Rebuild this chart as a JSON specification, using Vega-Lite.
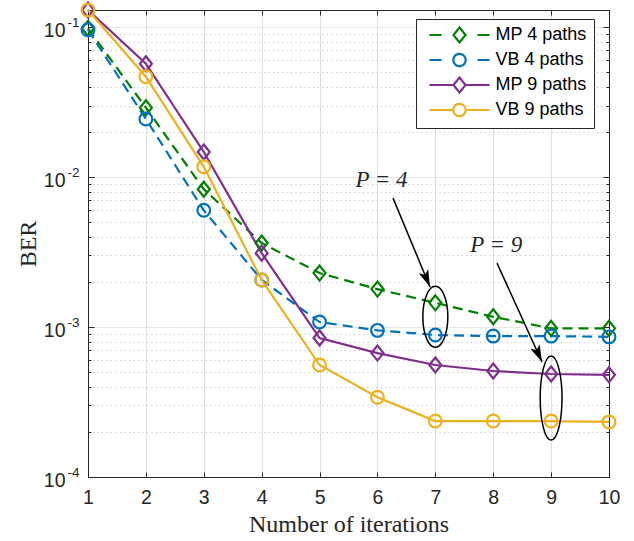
{
  "$schema": "https://vega.github.io/schema/vega-lite/v6.json",
  "width": 521,
  "height": 467,
  "autosize": {"type": "none"},
  "padding": {"left": 88, "top": 10, "right": 25, "bottom": 64},
  "background": "white",
  "config": {"view": {"stroke": "#262626", "strokeWidth": 1}, "font": "Liberation Sans"},
  "datasets": {
    "ber": [
      {"iter": 1, "ber": 0.098, "series": "MP 4 paths"},
      {"iter": 2, "ber": 0.029, "series": "MP 4 paths"},
      {"iter": 3, "ber": 0.0083, "series": "MP 4 paths"},
      {"iter": 4, "ber": 0.00363, "series": "MP 4 paths"},
      {"iter": 5, "ber": 0.00229, "series": "MP 4 paths"},
      {"iter": 6, "ber": 0.00179, "series": "MP 4 paths"},
      {"iter": 7, "ber": 0.00145, "series": "MP 4 paths"},
      {"iter": 8, "ber": 0.00117, "series": "MP 4 paths"},
      {"iter": 9, "ber": 0.00098, "series": "MP 4 paths"},
      {"iter": 10, "ber": 0.00098, "series": "MP 4 paths"},
      {"iter": 1, "ber": 0.096, "series": "VB 4 paths"},
      {"iter": 2, "ber": 0.0244, "series": "VB 4 paths"},
      {"iter": 3, "ber": 0.006, "series": "VB 4 paths"},
      {"iter": 4, "ber": 0.00206, "series": "VB 4 paths"},
      {"iter": 5, "ber": 0.00108, "series": "VB 4 paths"},
      {"iter": 6, "ber": 0.00095, "series": "VB 4 paths"},
      {"iter": 7, "ber": 0.000885, "series": "VB 4 paths"},
      {"iter": 8, "ber": 0.00087, "series": "VB 4 paths"},
      {"iter": 9, "ber": 0.00087, "series": "VB 4 paths"},
      {"iter": 10, "ber": 0.00086, "series": "VB 4 paths"},
      {"iter": 1, "ber": 0.13, "series": "MP 9 paths"},
      {"iter": 2, "ber": 0.057, "series": "MP 9 paths"},
      {"iter": 3, "ber": 0.0147, "series": "MP 9 paths"},
      {"iter": 4, "ber": 0.00311, "series": "MP 9 paths"},
      {"iter": 5, "ber": 0.000845, "series": "MP 9 paths"},
      {"iter": 6, "ber": 0.00067, "series": "MP 9 paths"},
      {"iter": 7, "ber": 0.000558, "series": "MP 9 paths"},
      {"iter": 8, "ber": 0.000509, "series": "MP 9 paths"},
      {"iter": 9, "ber": 0.000486, "series": "MP 9 paths"},
      {"iter": 10, "ber": 0.00048, "series": "MP 9 paths"},
      {"iter": 1, "ber": 0.13, "series": "VB 9 paths"},
      {"iter": 2, "ber": 0.0467, "series": "VB 9 paths"},
      {"iter": 3, "ber": 0.0117, "series": "VB 9 paths"},
      {"iter": 4, "ber": 0.00206, "series": "VB 9 paths"},
      {"iter": 5, "ber": 0.000558, "series": "VB 9 paths"},
      {"iter": 6, "ber": 0.00034, "series": "VB 9 paths"},
      {"iter": 7, "ber": 0.000236, "series": "VB 9 paths"},
      {"iter": 8, "ber": 0.000236, "series": "VB 9 paths"},
      {"iter": 9, "ber": 0.000236, "series": "VB 9 paths"},
      {"iter": 10, "ber": 0.000233, "series": "VB 9 paths"}
    ],
    "arrows": [
      {"x": 6.269, "y": 0.00724, "x2": 6.908, "y2": 0.00185},
      {"x": 8.065, "y": 0.00267, "x2": 8.843, "y2": 0.000584}
    ],
    "labels": [
      {"x": 6.07, "y": 0.00955, "t": "P = 4"},
      {"x": 8.053, "y": 0.00355, "t": "P = 9"}
    ]
  },
  "layer": [
    {
      "data": {"name": "ber"},
      "transform": [{"filter": {"field": "series", "oneOf": ["MP 4 paths", "VB 4 paths"]}}],
      "mark": {"type": "line", "strokeWidth": 2.2, "strokeDash": [10, 6]},
      "encoding": {
        "x": {
          "field": "iter", "type": "quantitative",
          "scale": {"domain": [1, 10], "nice": false, "zero": false},
          "axis": {
            "orient": "bottom", "values": [1, 2, 3, 4, 5, 6, 7, 8, 9, 10],
            "title": "Number of iterations", "titleFont": "Liberation Serif", "titleFontSize": 24,
            "titleFontWeight": "normal", "titleColor": "#262626", "titlePadding": 5,
            "labelFont": "Liberation Sans", "labelFontSize": 19.5, "labelColor": "#262626",
            "labelPadding": 16.5, "tickSize": -5, "tickColor": "#262626", "domainColor": "#262626",
            "grid": true, "gridColor": "#dfdfdf", "labelFlush": false
          }
        },
        "y": {
          "field": "ber", "type": "quantitative",
          "scale": {"type": "log", "domain": [0.0001, 0.13], "nice": false},
          "axis": {
            "orient": "left",
            "values": [0.0001, 0.0002, 0.0003, 0.0004, 0.0005, 0.0006, 0.0007, 0.0008, 0.0009, 0.001, 0.002, 0.003, 0.004, 0.005, 0.006, 0.007, 0.008, 0.009, 0.01, 0.02, 0.03, 0.04, 0.05, 0.06, 0.07, 0.08, 0.09, 0.1],
            "labelExpr": "datum.value === 0.1 || datum.value === 0.01 || datum.value === 0.001 || datum.value === 0.0001 ? '10' : ''",
            "labelOverlap": false,
            "title": "BER", "titleFont": "Liberation Serif", "titleFontSize": 24,
            "titleFontWeight": "normal", "titleColor": "#262626", "titlePadding": 3,
            "labelFont": "Liberation Sans", "labelFontSize": 19.5, "labelColor": "#262626",
            "labelPadding": 29, "labelOffset": 3,
            "tickSize": {"condition": {"test": "datum.value === 0.1 || datum.value === 0.01 || datum.value === 0.001 || datum.value === 0.0001", "value": -6}, "value": -3},
            "tickColor": "#262626", "domainColor": "#262626",
            "grid": true,
            "gridColor": {"condition": {"test": "datum.value === 0.1 || datum.value === 0.01 || datum.value === 0.001 || datum.value === 0.0001", "value": "#dfdfdf"}, "value": "#bdbdbd"},
            "gridDash": {"condition": {"test": "datum.value === 0.1 || datum.value === 0.01 || datum.value === 0.001 || datum.value === 0.0001", "value": [1, 0]}, "value": [1, 3.5]}
          }
        },
        "color": {
          "field": "series", "type": "nominal",
          "scale": {"domain": ["MP 4 paths", "VB 4 paths", "MP 9 paths", "VB 9 paths"], "range": ["#008000", "#0072BD", "#7E2F8E", "#EDB120"]},
          "legend": null
        }
      }
    },
    {
      "data": {"name": "ber"},
      "transform": [{"filter": {"field": "series", "oneOf": ["MP 9 paths", "VB 9 paths"]}}],
      "mark": {"type": "line", "strokeWidth": 2.2},
      "encoding": {
        "x": {"field": "iter", "type": "quantitative", "axis": null},
        "y": {"field": "ber", "type": "quantitative", "axis": null},
        "color": {
          "field": "series", "type": "nominal",
          "scale": {"domain": ["MP 4 paths", "VB 4 paths", "MP 9 paths", "VB 9 paths"], "range": ["#008000", "#0072BD", "#7E2F8E", "#EDB120"]},
          "legend": {
            "orient": "none", "legendX": 328, "legendY": 9, "title": null,
            "labelFont": "Liberation Sans", "labelFontSize": 18, "labelColor": "#000000",
            "fillColor": "white", "strokeColor": "#262626", "padding": 7,
            "symbolSize": 225, "symbolOffset": 27.5, "labelOffset": 27, "rowPadding": 2,
            "labelExpr": "datum.label + ' '",
            "encode": {
              "symbols": {
                "update": {
                  "shape": {"signal": "datum.value === 'MP 4 paths' ? 'M-4,0L-2.4,0M2.4,0L4,0M0,-1L0.8,0L0,1L-0.8,0Z' : datum.value === 'VB 4 paths' ? 'M-4,0L-2.4,0M2.4,0L4,0M0.82,0A0.82,0.82 0 1,1 -0.82,0A0.82,0.82 0 1,1 0.82,0Z' : datum.value === 'MP 9 paths' ? 'M-4,0L-0.8,0M0.8,0L4,0M0,-1L0.8,0L0,1L-0.8,0Z' : 'M-4,0L-0.82,0M0.82,0L4,0M0.82,0A0.82,0.82 0 1,1 -0.82,0A0.82,0.82 0 1,1 0.82,0Z'"},
                  "fill": {"value": "transparent"},
                  "strokeWidth": {"value": 2.2},
                  "strokeDash": {"value": [1, 0]}
                }
              }
            }
          }
        }
      }
    },
    {
      "data": {"name": "ber"},
      "mark": {"type": "point", "filled": false, "strokeWidth": 2.2, "size": 225, "opacity": 1},
      "encoding": {
        "x": {
          "field": "iter", "type": "quantitative",
          "axis": {"orient": "top", "values": [1, 2, 3, 4, 5, 6, 7, 8, 9, 10], "labels": false, "title": null, "tickSize": -5, "tickColor": "#262626", "domainColor": "#262626", "grid": false}
        },
        "y": {
          "field": "ber", "type": "quantitative",
          "axis": {
            "orient": "right", "labels": false, "title": null, "grid": false,
            "values": [0.0001, 0.0002, 0.0003, 0.0004, 0.0005, 0.0006, 0.0007, 0.0008, 0.0009, 0.001, 0.002, 0.003, 0.004, 0.005, 0.006, 0.007, 0.008, 0.009, 0.01, 0.02, 0.03, 0.04, 0.05, 0.06, 0.07, 0.08, 0.09, 0.1],
            "tickSize": {"condition": {"test": "datum.value === 0.1 || datum.value === 0.01 || datum.value === 0.001 || datum.value === 0.0001", "value": -6}, "value": -3},
            "tickColor": "#262626", "domainColor": "#262626"
          }
        },
        "stroke": {
          "field": "series", "type": "nominal",
          "scale": {"domain": ["MP 4 paths", "VB 4 paths", "MP 9 paths", "VB 9 paths"], "range": ["#008000", "#0072BD", "#7E2F8E", "#EDB120"]},
          "legend": null
        },
        "shape": {
          "field": "series", "type": "nominal",
          "scale": {"domain": ["MP 4 paths", "VB 4 paths", "MP 9 paths", "VB 9 paths"], "range": ["M0,-1L0.8,0L0,1L-0.8,0Z", "M0.85,0A0.85,0.85 0 1,1 -0.85,0A0.85,0.85 0 1,1 0.85,0Z", "M0,-1L0.8,0L0,1L-0.8,0Z", "M0.85,0A0.85,0.85 0 1,1 -0.85,0A0.85,0.85 0 1,1 0.85,0Z"]},
          "legend": null
        }
      }
    },
    {
      "data": {"values": [{"x": 7, "y": 0.00117}]},
      "mark": {"type": "point", "filled": false, "stroke": "black", "strokeWidth": 1.5, "opacity": 1, "size": 3721, "shape": "M0,-1A0.41,1 0 1,1 0,1A0.41,1 0 1,1 0,-1Z"},
      "encoding": {
        "x": {"field": "x", "type": "quantitative", "axis": null},
        "y": {
          "field": "y", "type": "quantitative",
          "axis": {
            "orient": "left", "values": [0.0001, 0.001, 0.01, 0.1],
            "labelExpr": "datum.value === 0.1 ? '-1' : datum.value === 0.01 ? '-2' : datum.value === 0.001 ? '-3' : '-4'",
            "ticks": false, "tickSize": 0, "domain": false, "grid": false, "title": null,
            "labelFont": "Liberation Sans", "labelFontSize": 13.5, "labelColor": "#262626",
            "labelPadding": 9, "labelOffset": -5, "labelOverlap": false
          }
        }
      }
    },
    {
      "data": {"values": [{"x": 9, "y": 0.000336}]},
      "mark": {"type": "point", "filled": false, "stroke": "black", "strokeWidth": 1.5, "opacity": 1, "size": 7056, "shape": "M0,-1A0.26,1 0 1,1 0,1A0.26,1 0 1,1 0,-1Z"},
      "encoding": {
        "x": {"field": "x", "type": "quantitative", "axis": null},
        "y": {"field": "y", "type": "quantitative", "axis": null}
      }
    },
    {
      "data": {"name": "arrows"},
      "mark": {"type": "rule", "color": "black", "strokeWidth": 1.5},
      "encoding": {
        "x": {"field": "x", "type": "quantitative", "axis": null},
        "y": {"field": "y", "type": "quantitative", "axis": null},
        "x2": {"field": "x2"},
        "y2": {"field": "y2"}
      }
    },
    {
      "data": {"values": [{"x": 6.908, "y": 0.00185}]},
      "mark": {"type": "point", "filled": true, "color": "black", "opacity": 1, "size": 1156, "angle": -22.6, "shape": "M0,0L-0.3,-1L0,-0.78L0.3,-1Z"},
      "encoding": {
        "x": {"field": "x", "type": "quantitative", "axis": null},
        "y": {"field": "y", "type": "quantitative", "axis": null}
      }
    },
    {
      "data": {"values": [{"x": 8.843, "y": 0.000584}]},
      "mark": {"type": "point", "filled": true, "color": "black", "opacity": 1, "size": 1156, "angle": -24.4, "shape": "M0,0L-0.3,-1L0,-0.78L0.3,-1Z"},
      "encoding": {
        "x": {"field": "x", "type": "quantitative", "axis": null},
        "y": {"field": "y", "type": "quantitative", "axis": null}
      }
    },
    {
      "data": {"name": "labels"},
      "mark": {"type": "text", "font": "Liberation Serif", "fontStyle": "italic", "fontSize": 23, "color": "#262626", "align": "center", "baseline": "middle"},
      "encoding": {
        "x": {"field": "x", "type": "quantitative", "axis": null},
        "y": {"field": "y", "type": "quantitative", "axis": null},
        "text": {"field": "t"}
      }
    }
  ],
  "resolve": {
    "scale": {"x": "shared", "y": "shared"},
    "axis": {"x": "independent", "y": "independent"},
    "legend": {"color": "independent"}
  }
}
